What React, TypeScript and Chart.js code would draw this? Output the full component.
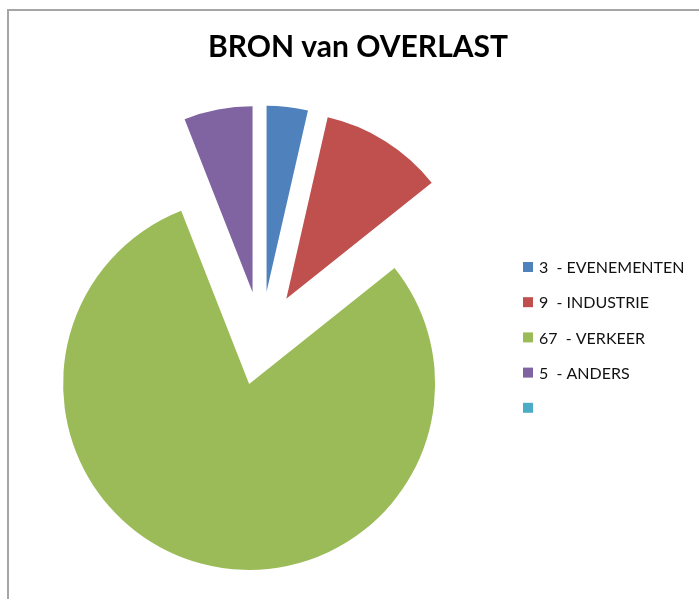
import React, { useEffect, useRef } from "react";
import { Chart, registerables } from "chart.js";
Chart.register(...registerables);

const TITLE = "BRON van OVERLAST";
const categories = ["3  - EVENEMENTEN", "9  - INDUSTRIE", "67  - VERKEER", "5  - ANDERS", ""];
const values = [3, 9, 67, 5, 0];
const colors = ["#4F81BD", "#C0504D", "#9BBB59", "#8064A2", "#4BACC6"];

const EXPLODE = 47;
const RADIUS = 186;
const CX = 261.3;
const CY = 338.5;
const AREA = 400;

export default function App() {
  const ref = useRef<HTMLCanvasElement>(null);
  useEffect(() => {
    const explode = {
      id: "explode",
      beforeDatasetDraw(chart: any, args: any) {
        const ctx = chart.ctx;
        args.meta.data.forEach((arc: any) => {
          if (arc.circumference === 0) return;
          const mid = (arc.startAngle + arc.endAngle) / 2;
          ctx.save();
          ctx.translate(Math.cos(mid) * EXPLODE, Math.sin(mid) * EXPLODE);
          arc.draw(ctx);
          ctx.restore();
        });
        return false;
      },
    };
    const overlay = {
      id: "overlay",
      afterDraw(chart: any) {
        const ctx = chart.ctx;
        ctx.save();
        ctx.fillStyle = "#000";
        ctx.font = "bold 30px Lato";
        ctx.textAlign = "center";
        ctx.textBaseline = "alphabetic";
        ctx.fillText(TITLE, 358, 57);
        ctx.font = "16px Lato";
        ctx.textAlign = "left";
        ctx.textBaseline = "middle";
        const bg = chart.data.datasets[0].backgroundColor;
        chart.data.labels.forEach((lab: string, i: number) => {
          const y = 267 + i * 35.2;
          ctx.fillStyle = bg[i];
          ctx.fillRect(523, y - 5, 10, 10);
          ctx.fillStyle = "#111";
          ctx.fillText(lab, 539, y + 1);
        });
        ctx.restore();
      },
    };
    const chart = new Chart(ref.current as HTMLCanvasElement, {
      type: "pie",
      data: {
        labels: categories,
        datasets: [
          {
            data: values,
            backgroundColor: colors,
            borderWidth: 0,
            radius: RADIUS,
          } as any,
        ],
      },
      options: {
        responsive: false,
        animation: false,
        layout: {
          padding: {
            left: CX - AREA / 2,
            right: 699 - CX - AREA / 2,
            top: CY - AREA / 2,
            bottom: 599 - CY - AREA / 2,
          },
        },
        plugins: {
          legend: { display: false },
          title: { display: false },
          tooltip: { enabled: false },
        },
      },
      plugins: [explode, overlay],
    });
    return () => chart.destroy();
  }, []);

  return (
    <div
      style={{
        position: "fixed",
        left: 0,
        top: 0,
        width: 699,
        height: 599,
        overflow: "hidden",
        background: "#fff",
      }}
    >
      <div
        style={{
          position: "absolute",
          left: 7,
          top: 9,
          width: 2000,
          height: 2000,
          border: "2px solid #a6a6a6",
        }}
      />
      <canvas
        ref={ref}
        width={699}
        height={599}
        style={{ position: "absolute", left: 0, top: 0 }}
      />
    </div>
  );
}
